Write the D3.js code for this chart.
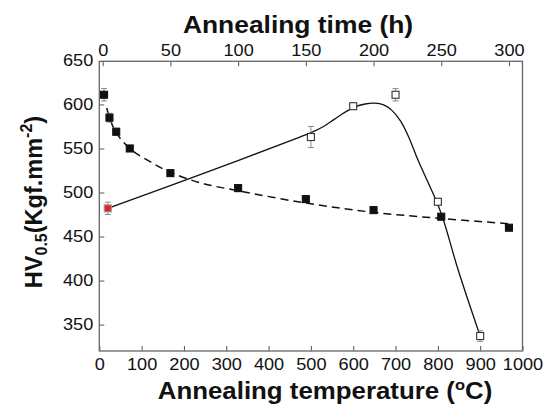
<!DOCTYPE html>
<html>
<head>
<meta charset="utf-8">
<script src="https://cdn.jsdelivr.net/npm/d3@7"></script>
<style>
    html, body { margin: 0; padding: 0; background: #fff; }
    svg text { font-family: "Liberation Sans", Arial, Helvetica, sans-serif; fill: #111; }
</style>
</head>
<body>
<div id="chart"></div>
<script>
// Hardness vs annealing time (top axis, filled squares) and
// vs annealing temperature (bottom axis, open squares).

var timeTicks = [0, 50, 100, 150, 200, 250, 300];
var tempTicks = [0, 100, 200, 300, 400, 500, 600, 700, 800, 900, 1000];
var hvTicks = [350, 400, 450, 500, 550, 600, 650];

// filled squares, vs annealing time (h)
var agedTime = [1, 5, 10, 20, 50, 100, 150, 200, 250, 300];
var agedHV   = [611, 585, 569, 550, 522, 505, 492.5, 480, 472.5, 460];
var agedErr  = [7, 5, 4, 3, 2, 4, 3, 3, 2, 3];

// dashed fit through the filled squares
var fitTime   = [3, 5, 10, 20, 35, 50, 72, 100, 150, 200, 250, 300];
var fitTimeHV = [596, 585, 568, 550, 535, 523, 511, 502, 488, 477.5, 470.5, 464.5];

// open squares, vs annealing temperature (oC)
var annealTemp = [500, 600, 700, 800, 900];
var annealHV   = [563, 598, 611, 489.5, 337];
var annealErr  = [12, 3, 7, 3, 6];

// red square: starting state
var startTemp = [20];
var startHV   = [482];
var startErr  = [7];

// solid fit through the open squares
var fitTemp   = [20, 240, 474, 500, 530, 555, 580, 605, 628, 650, 672, 692, 712, 732, 752, 774, 797, 813, 848, 900];
var fitTempHV = [482, 520.5, 563, 568, 575, 583, 591, 597.5, 600.5, 601.5, 599.5, 593, 581, 562, 538, 514.4, 489.8, 469, 412, 337];

(function () {
    var W = 547, H = 409;
    var L = 99.3, R = 522.5, T = 61.3, B = 351;
    var stretch = 'scale(1.1,1)';

    var svg = d3.select('#chart').append('svg')
        .attr('width', W).attr('height', H)
        .attr('viewBox', '0 0 ' + W + ' ' + H);

    var xTemp = d3.scaleLinear().domain([0, 1000]).range([L, R]);
    var xTime = d3.scaleLinear().domain([-2.5, 310]).range([L, R]);
    var y = d3.scaleLinear().domain([320, 649]).range([B, T]);

    function styleAxis(g) {
        g.select('.domain').remove();
        g.selectAll('.tick line').attr('stroke', '#555').attr('stroke-width', 1);
        g.selectAll('.tick text')
            .attr('font-size', 16.5)
            .attr('font-family', '"Liberation Sans", Arial, sans-serif')
            .attr('fill', '#111')
            .attr('transform', stretch);
    }

    // axes (ticks point inward)
    svg.append('g')
        .attr('transform', 'translate(0,' + B + ')')
        .call(d3.axisBottom(xTemp).tickValues(tempTicks).tickFormat(d3.format('d'))
            .tickSizeInner(-5).tickSizeOuter(0).tickPadding(7.3))
        .call(styleAxis);
    svg.append('g')
        .attr('transform', 'translate(0,' + T + ')')
        .call(d3.axisTop(xTime).tickValues(timeTicks).tickFormat(d3.format('d'))
            .tickSizeInner(-5).tickSizeOuter(0).tickPadding(5.3))
        .call(styleAxis);
    var yAxis = svg.append('g')
        .attr('transform', 'translate(' + L + ',0)')
        .call(d3.axisLeft(y).tickValues(hvTicks)
            .tickSizeInner(-5).tickSizeOuter(0).tickPadding(5.5))
        .call(styleAxis);
    yAxis.selectAll('.tick').filter(function (d) { return d === 650; })
        .select('line').remove();

    // frame
    svg.append('rect')
        .attr('x', L).attr('y', T)
        .attr('width', R - L).attr('height', B - T)
        .attr('fill', 'none').attr('stroke', '#666').attr('stroke-width', 1.3);

    // fitted curves
    var lineTime = d3.line()
        .x(function (d, i) { return xTime(fitTime[i]); })
        .y(function (d) { return y(d); })
        .curve(d3.curveCatmullRom.alpha(0.5));
    svg.append('path')
        .datum(fitTimeHV)
        .attr('d', lineTime)
        .attr('fill', 'none').attr('stroke', '#111')
        .attr('stroke-width', 1.5).attr('stroke-dasharray', '8,5');

    var lineTemp = d3.line()
        .x(function (d, i) { return xTemp(fitTemp[i]); })
        .y(function (d) { return y(d); })
        .curve(d3.curveCatmullRom.alpha(0.5));
    svg.append('path')
        .datum(fitTempHV)
        .attr('d', lineTemp)
        .attr('fill', 'none').attr('stroke', '#111')
        .attr('stroke-width', 1.3);

    // error bars + squares
    function drawSeries(xs, vals, errs, xScale, fill, stroke) {
        var g = svg.append('g');
        var pts = vals.map(function (v, i) { return { x: xs[i], v: v, e: errs[i] }; });
        var bars = g.selectAll('g.eb').data(pts).enter().append('g').attr('class', 'eb');
        bars.append('line')
            .attr('x1', function (d) { return xScale(d.x); })
            .attr('x2', function (d) { return xScale(d.x); })
            .attr('y1', function (d) { return y(d.v - d.e); })
            .attr('y2', function (d) { return y(d.v + d.e); });
        [-1, 1].forEach(function (s) {
            bars.append('line')
                .attr('x1', function (d) { return xScale(d.x) - 3; })
                .attr('x2', function (d) { return xScale(d.x) + 3; })
                .attr('y1', function (d) { return y(d.v + s * d.e); })
                .attr('y2', function (d) { return y(d.v + s * d.e); });
        });
        bars.selectAll('line').attr('stroke', '#888').attr('stroke-width', 1);
        g.selectAll('rect').data(pts).enter().append('rect')
            .attr('x', function (d) { return xScale(d.x) - 3.5; })
            .attr('y', function (d) { return y(d.v) - 3.5; })
            .attr('width', 7).attr('height', 7)
            .attr('fill', fill).attr('stroke', stroke).attr('stroke-width', 1.1);
    }
    drawSeries(agedTime, agedHV, agedErr, xTime, '#111', '#111');
    drawSeries(annealTemp, annealHV, annealErr, xTemp, '#fff', '#333');
    drawSeries(startTemp, startHV, startErr, xTemp, '#e3202c', '#999');

    // axis titles
    svg.append('text')
        .attr('transform', 'translate(298,33) ' + stretch)
        .attr('text-anchor', 'middle')
        .attr('font-size', 24).attr('font-weight', 'bold')
        .text('Annealing time (h)');

    var bt = svg.append('text')
        .attr('transform', 'translate(325,399) ' + stretch)
        .attr('text-anchor', 'middle')
        .attr('font-size', 23.5).attr('font-weight', 'bold');
    bt.append('tspan').text('Annealing temperature (');
    bt.append('tspan').attr('font-size', 15).attr('dy', -9).text('o');
    bt.append('tspan').attr('dy', 9).text('C)');

    var yt = svg.append('text')
        .attr('transform', 'translate(41.5,202) rotate(-90)')
        .attr('text-anchor', 'middle')
        .attr('font-size', 23.5).attr('font-weight', 'bold');
    yt.append('tspan').text('HV');
    yt.append('tspan').attr('font-size', 16).attr('dy', 5).text('0.5');
    yt.append('tspan').attr('dy', -5).text('(Kgf.mm');
    yt.append('tspan').attr('font-size', 16).attr('dy', -10).text('-2');
    yt.append('tspan').attr('dy', 10).text(')');
})();
</script>
</body>
</html>
